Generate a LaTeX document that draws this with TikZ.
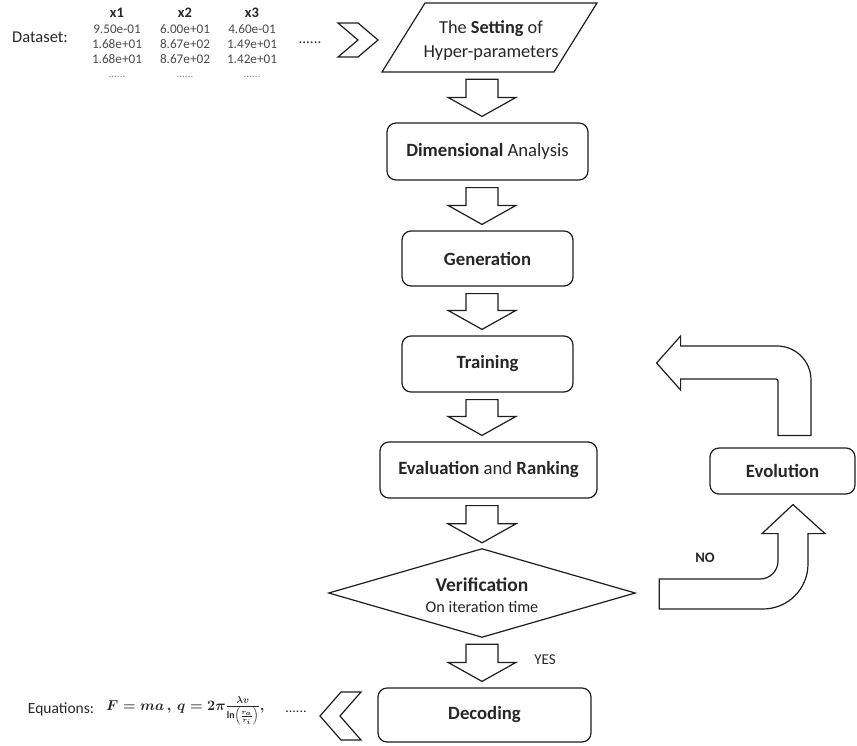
\documentclass[tikz,border=0pt]{standalone}
\usepackage{fontspec}
\setmainfont{Carlito}
\usetikzlibrary{calc}
\definecolor{linec}{HTML}{1E1E1E}
\definecolor{txt}{HTML}{262626}
\definecolor{datac}{HTML}{4A4A4A}
\tikzset{
  box/.style={draw=linec, line width=1.2pt, rounded corners=9pt, text=txt,
    font=\fontsize{18.7}{22}\selectfont, inner sep=0pt},
  blk/.style={draw=linec, line width=1.2pt, fill=white, line join=miter},
  datanum/.style={text=datac, font=\fontsize{13.2}{15}\selectfont, inner sep=0pt},
  datahead/.style={text=txt, font=\fontsize{14.5}{16}\selectfont\bfseries, inner sep=0pt},
  datadots/.style={text=datac!70, font=\fontsize{11}{12}\selectfont, inner sep=0pt},
  lbl/.style={text=txt, inner sep=0pt}
}
\newcommand\blkarrow[2]{%
  \draw[blk] let \p1=(axis |- #1.south), \p2=(axis |- #2.north) in
    (\x1-16pt,\y1-7pt) -- (\x1+16pt,\y1-7pt) -- (\x1+16pt,\y2+25pt)
    -- (\x1+34pt,\y2+25pt) -- (\x1,\y2+6pt) -- (\x1-34pt,\y2+25pt)
    -- (\x1-16pt,\y2+25pt) -- cycle;}
\begin{document}
\begin{tikzpicture}[x=1pt,y=1pt]
\useasboundingbox (0,0) rectangle (857,-745);
\coordinate (axis) at (482,0);

% ---- dataset ----
\node[lbl, font=\fontsize{16.5}{18}\selectfont] (ds) at (40,-37) {Dataset:};
\node[datahead] (h1) at (117,-13) {x1};
\node[datahead] (h2) at (185,-13) {x2};
\node[datahead] (h3) at (252,-13) {x3};
\node[datanum] (a1) at (117,-29) {9.50e-01};
\node[datanum] (a2) at (117,-44) {1.68e+01};
\node[datanum] (a3) at (117,-59) {1.68e+01};
\node[datadots] (a4) at (117,-77) {......};
\node[datanum] (b1) at (185,-29) {6.00e+01};
\node[datanum] (b2) at (185,-44) {8.67e+02};
\node[datanum] (b3) at (185,-59) {8.67e+02};
\node[datadots] (b4) at (185,-77) {......};
\node[datanum] (c1) at (252,-29) {4.60e-01};
\node[datanum] (c2) at (252,-44) {1.49e+01};
\node[datanum] (c3) at (252,-59) {1.42e+01};
\node[datadots] (c4) at (252,-77) {......};
\node[lbl, font=\fontsize{15}{17}\selectfont] (dsdots) at (310,-43) {......};

% chevron to parameters
\coordinate (chevA) at (338,-23);
\draw[blk] (chevA) -- ++(20,0) -- ++(20,-17) -- ++(-20,-17) -- ++(-20,0) -- ++(20,17) -- cycle;

% ---- parameters (parallelogram) ----
\node[minimum width=215pt, minimum height=69pt, inner sep=0pt] (param) at (489.5,-37.5) {};
\draw[blk] (382,-72) -- (425,-3) -- (597,-3) -- (554,-72) -- cycle;
\node[lbl, align=center, font=\fontsize{18.3}{24}\selectfont] (paramtxt) at (491,-41)
  {The \textbf{Setting} of\\Hyper-parameters};

% ---- main boxes ----
\node[box, minimum width=201pt, minimum height=57pt] (dim) at (487.5,-151.5)
  {\textbf{Dimensional} Analysis};
\node[box, minimum width=171pt, minimum height=55pt] (gen) at (487.5,-258.5)
  {\textbf{Generation}};
\node[box, minimum width=171pt, minimum height=56pt] (train) at (487.5,-364)
  {\textbf{Training}};
\node[box, minimum width=217pt, minimum height=56pt] (eval) at (488.5,-470)
  {\textbf{Evaluation} and \textbf{Ranking}};
\node[minimum width=306pt, minimum height=88pt, inner sep=0pt] (verif) at (482,-593) {};
\draw[blk] (verif.north) -- (verif.east) -- (verif.south) -- (verif.west) -- cycle;
\node[lbl, font=\fontsize{19.5}{22}\selectfont\bfseries] (veriftxt) at (482,-585) {Verification};
\node[lbl, font=\fontsize{16.2}{18}\selectfont] (veriftxt2) at (482,-607) {On iteration time};
\node[box, minimum width=213pt, minimum height=54pt] (decode) at (484.5,-715)
  {\textbf{Decoding}};
\node[box, minimum width=145pt, minimum height=46pt] (evol) at (782.5,-471)
  {\textbf{Evolution}};

% ---- down block arrows ----
\blkarrow{param}{dim}
\blkarrow{dim}{gen}
\blkarrow{gen}{train}
\blkarrow{train}{eval}
\blkarrow{eval}{verif}
\blkarrow{verif}{decode}

% ---- bent arrow: evolution -> training ----
\draw[blk] let \p1=(evol.north), \p2=(train.east) in
  (\x1-4.5pt,\y1+12pt) -- (\x1-4.5pt,\y2-17pt)
  arc[start angle=0, end angle=90, radius=2pt]
  -- (\x2+107pt,\y2-15pt) -- (\x2+107pt,\y2-26pt) -- (\x2+83pt,\y2+1pt)
  -- (\x2+107pt,\y2+28pt) -- (\x2+107pt,\y2+18pt) -- (\x1-5.5pt,\y2+18pt)
  arc[start angle=90, end angle=0, radius=34pt]
  -- (\x1+28.5pt,\y1+12pt) -- cycle;

% ---- bent arrow: verification -> evolution ----
\draw[blk] let \p1=(verif.east), \p2=(evol.south) in
  (\x1+24pt,\y1+14pt) -- (\x2-22.5pt,\y1+14pt)
  arc[start angle=270, end angle=360, radius=18pt]
  -- (\x2-4.5pt,\y2-39pt) -- (\x2-20.5pt,\y2-39pt) -- (\x2+10.5pt,\y2-10pt)
  -- (\x2+42.5pt,\y2-39pt) -- (\x2+25.5pt,\y2-39pt) -- (\x2+25.5pt,\y1+29pt)
  arc[start angle=0, end angle=-90, radius=45pt]
  -- (\x1+24pt,\y1-16pt) -- cycle;

\node[lbl, font=\fontsize{14.5}{16}\selectfont\bfseries] (no) at (705,-558) {NO};
\node[lbl, font=\fontsize{15}{17}\selectfont] (yes) at (545,-660) {YES};

% ---- equations ----
\node[lbl, font=\fontsize{15.5}{17}\selectfont] (eqlab) at (61,-709) {Equations:};
\node[lbl, anchor=west, font=\fontsize{14}{16}\selectfont\boldmath] (eqf) at (106,-711)
  {$F = ma\,,\, q = 2\pi\frac{\lambda v}{\ln\left(\frac{r_a}{r_i}\right)},$};
\node[lbl, font=\fontsize{14}{16}\selectfont] (eqdots) at (296,-712) {......};
\coordinate (chevB) at (361,-692);
\draw[blk] (chevB) -- ++(-20,0) -- ++(-21,-24) -- ++(21,-24) -- ++(20,0) -- ++(-21,24) -- cycle;
\end{tikzpicture}
\end{document}
